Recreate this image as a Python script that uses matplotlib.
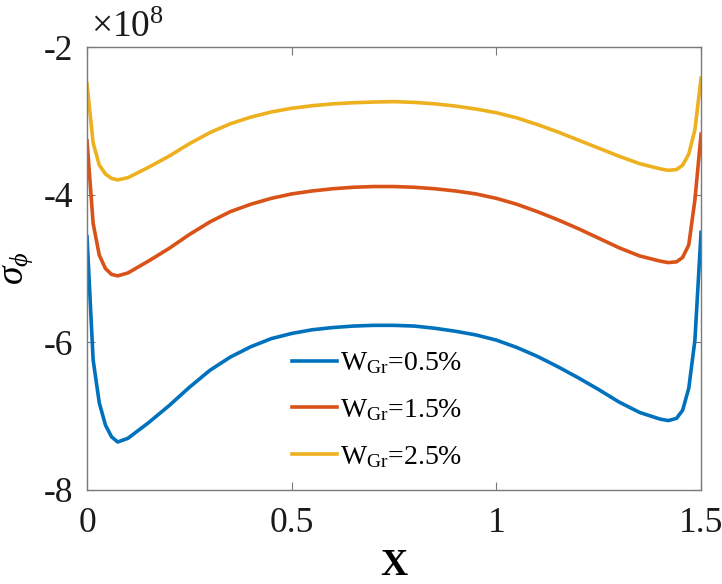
import matplotlib
matplotlib.use('Agg')
import matplotlib.pyplot as plt

plt.rcParams['font.family'] = ['Liberation Serif', 'DejaVu Serif']
plt.rcParams['mathtext.fontset'] = 'custom'
plt.rcParams['mathtext.rm'] = 'Liberation Serif'
plt.rcParams['mathtext.it'] = 'Liberation Serif:italic'
plt.rcParams['mathtext.bf'] = 'Liberation Serif:bold'
plt.rcParams['axes.unicode_minus'] = False

SERIF = 'Liberation Serif'

# sigma_phi values in units of 1e8
x = [0, 0.015, 0.03, 0.045, 0.06, 0.075, 0.1, 0.15, 0.2, 0.25, 0.3, 0.35, 0.4, 0.45,
     0.5, 0.55, 0.6, 0.65, 0.7, 0.75, 0.8, 0.85, 0.9, 0.95, 1.0, 1.05, 1.1, 1.15,
     1.2, 1.25, 1.3, 1.35, 1.4, 1.42, 1.44, 1.455, 1.47, 1.485, 1.5]
sigma_05 = [-4.57, -6.24, -6.82, -7.12, -7.28, -7.35, -7.30, -7.09, -6.86, -6.61, -6.38,
            -6.20, -6.06, -5.95, -5.88, -5.83, -5.80, -5.78, -5.77, -5.77, -5.78, -5.81,
            -5.85, -5.90, -5.97, -6.07, -6.19, -6.33, -6.48, -6.64, -6.81, -6.95, -7.04,
            -7.06, -7.03, -6.92, -6.62, -5.97, -4.51]
sigma_15 = [-3.27, -4.39, -4.82, -5.00, -5.08, -5.10, -5.06, -4.90, -4.73, -4.54, -4.37,
            -4.23, -4.13, -4.05, -3.99, -3.95, -3.92, -3.90, -3.89, -3.89, -3.90, -3.92,
            -3.95, -3.99, -4.05, -4.13, -4.23, -4.34, -4.46, -4.59, -4.72, -4.83, -4.90,
            -4.92, -4.91, -4.85, -4.68, -4.07, -3.18]
sigma_25 = [-2.50, -3.30, -3.60, -3.72, -3.78, -3.80, -3.77, -3.63, -3.48, -3.31, -3.16,
            -3.04, -2.95, -2.88, -2.83, -2.795, -2.77, -2.755, -2.745, -2.74, -2.75, -2.77,
            -2.80, -2.84, -2.89, -2.96, -3.05, -3.15, -3.26, -3.37, -3.48, -3.58, -3.65,
            -3.67, -3.66, -3.60, -3.45, -3.12, -2.42]
labels = [r'W$_{\rm Gr}$=0.5%', r'W$_{\rm Gr}$=1.5%', r'W$_{\rm Gr}$=2.5%']
colors = ['#0072BD', '#D95319', '#EDB120']

fig = plt.figure(figsize=(7.22, 5.84), dpi=100)
ax = fig.add_axes([0.1205, 0.161, 0.8505, 0.7585])

for ys, lab, c in zip([sigma_05, sigma_15, sigma_25], labels, colors):
    ax.plot(x, ys, color=c, lw=2.6, label=lab)

ax.set_xlim(0, 1.5)
ax.set_ylim(-8, -2)
ax.set_xticks([0, 0.5, 1, 1.5])
ax.set_xticklabels(['0', '0.5', '1', '1.5'], fontfamily=SERIF)
ax.set_yticks([-8, -6, -4, -2])
ax.set_yticklabels(['-8', '-6', '-4', '-2'], fontfamily=SERIF)

axis_gray = '#7a7a7a'
for s in ax.spines.values():
    s.set_color(axis_gray)
    s.set_linewidth(1.0)
ax.tick_params(direction='in', length=6, width=0.8, color=axis_gray,
               top=True, right=True, labelsize=25.5, labelcolor='#1a1a1a')
ax.tick_params(axis='x', pad=12)
ax.tick_params(axis='y', pad=10)

ax.text(0.006, 1.004, '\u00d710$^{8}$', transform=ax.transAxes, fontsize=27,
        fontfamily=SERIF, color='#1a1a1a', ha='left', va='bottom')

ax.set_xlabel('X', fontsize=27, fontweight='bold', fontfamily=SERIF, labelpad=6)
ax.set_ylabel(r'$\sigma_{\phi}$', fontsize=27, labelpad=6)

ax.legend(loc='upper left', bbox_to_anchor=(0.3165, 0.34), frameon=False,
          prop={'family': SERIF, 'size': 20},
          handlelength=1.6, handletextpad=0.12, labelspacing=0.75, borderaxespad=0)

fig.savefig('out.png', dpi=100)
